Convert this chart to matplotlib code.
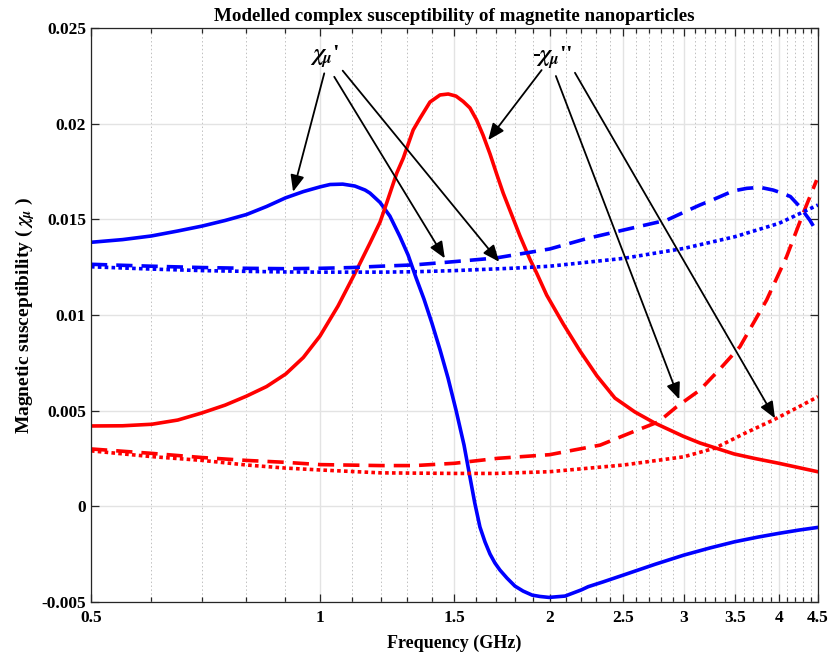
import numpy as np
import matplotlib
matplotlib.use('Agg')
import matplotlib.pyplot as plt
from matplotlib.ticker import FixedLocator, NullFormatter, FixedFormatter

plt.rcParams['font.family'] = ['Liberation Serif', 'DejaVu Serif']
plt.rcParams['font.weight'] = 'bold'
plt.rcParams['mathtext.fontset'] = 'stix'

# ---- data ----
# chi' (solid blue)
f_bs = [0.5, 0.55, 0.6, 0.65, 0.7, 0.75, 0.8, 0.85, 0.9, 0.95, 1.0, 1.03, 1.07, 1.11,
        1.145, 1.162, 1.198, 1.234, 1.272, 1.304, 1.336, 1.368, 1.401, 1.436, 1.471,
        1.507, 1.544, 1.571, 1.595, 1.62, 1.645, 1.67, 1.695, 1.721, 1.758, 1.801,
        1.846, 1.897, 1.942, 1.996, 2.095, 2.2, 2.247, 2.35, 2.5, 2.75, 3.0, 3.25, 3.5,
        3.75, 4.0, 4.25, 4.5]
chi1_real = [0.0138, 0.01394, 0.01413, 0.01439, 0.01465, 0.01494, 0.01525, 0.01567,
             0.01612, 0.01645, 0.0167, 0.01682, 0.01684, 0.01674, 0.01653, 0.01637,
             0.01588, 0.01517, 0.0141, 0.01313, 0.01193, 0.01083, 0.00958, 0.00818,
             0.00671, 0.00503, 0.0032, 0.00158, 0.00017, -0.00108, -0.00186, -0.00249,
             -0.00296, -0.00333, -0.00375, -0.00417, -0.00443, -0.00464, -0.00471,
             -0.00476, -0.00469, -0.00437, -0.0042, -0.00395, -0.00359, -0.00303,
             -0.00255, -0.00217, -0.00185, -0.00161, -0.00141, -0.00124, -0.0011]

# -chi'' (solid red)
f_rs = [0.5, 0.55, 0.601, 0.65, 0.699, 0.75, 0.8, 0.85, 0.901, 0.95, 0.999, 1.055,
        1.116, 1.162, 1.198, 1.222, 1.26, 1.285, 1.324, 1.352, 1.393, 1.436, 1.472,
        1.507, 1.54, 1.572, 1.604, 1.635, 1.67, 1.704, 1.738, 1.792, 1.828, 1.884,
        1.923, 1.982, 2.084, 2.192, 2.307, 2.436, 2.588, 2.749, 2.992, 3.15, 3.296,
        3.491, 3.719, 3.987, 4.496]
chi1_imag = [0.0042, 0.00421, 0.00429, 0.00451, 0.00488, 0.00529, 0.00576, 0.00626,
             0.00692, 0.00778, 0.0089, 0.01047, 0.01235, 0.01376, 0.01486, 0.01585,
             0.01742, 0.0182, 0.01967, 0.02029, 0.02113, 0.0215, 0.02155, 0.02144,
             0.02116, 0.02082, 0.02019, 0.01941, 0.01842, 0.01737, 0.01637, 0.01502,
             0.01414, 0.01292, 0.01219, 0.01104, 0.00953, 0.00812, 0.00682, 0.00566,
             0.00493, 0.00435, 0.00367, 0.00331, 0.00306, 0.00274, 0.0025, 0.00226,
             0.00181]

# chi' (dashed blue)
f_bd = [0.5, 0.6, 0.7, 0.8, 0.9, 1.0, 1.1, 1.2, 1.33, 1.5, 1.7, 2.0, 2.24, 2.5, 2.85, 3.0,
        3.15, 3.3, 3.48, 3.63, 3.78, 3.93, 4.05, 4.14, 4.26, 4.39, 4.5]
chi2_real = [0.01265, 0.01255, 0.01248, 0.01244, 0.01242, 0.01244, 0.01248, 0.01255,
             0.01262, 0.01279, 0.01298, 0.01345, 0.014, 0.01444, 0.01496, 0.01537,
             0.01575, 0.01608, 0.01648, 0.01662, 0.01667, 0.01653, 0.01635, 0.01619,
             0.01566, 0.01496, 0.01425]

# chi' (dotted blue)
f_bo = [0.5, 0.6, 0.7, 0.8, 0.9, 1.0, 1.2, 1.33, 1.5, 1.8, 2.0, 2.5, 3.0, 3.5, 4.0, 4.5]
chi3_real = [0.01252, 0.0124, 0.01232, 0.01228, 0.01225, 0.01224, 0.01224, 0.01226,
             0.01232, 0.01245, 0.01255, 0.01296, 0.01348, 0.01409, 0.01479, 0.01575]

# -chi'' (dashed red)
f_rd = [0.5, 0.6, 0.7, 0.8, 0.9, 1.0, 1.2, 1.33, 1.5, 1.71, 2.0, 2.15, 2.33, 2.575, 2.78,
        2.935, 3.15, 3.35, 3.554, 3.853, 4.092, 4.303, 4.482]
chi2_imag = [0.003, 0.00277, 0.00255, 0.0024, 0.0023, 0.00218, 0.00213, 0.00213, 0.00225,
             0.00251, 0.0027, 0.00294, 0.0032, 0.0039, 0.00442, 0.0052, 0.00608, 0.0072,
             0.00834, 0.01078, 0.01304, 0.01531, 0.01705]

# -chi'' (dotted red)
f_ro = [0.5, 0.6, 0.7, 0.8, 0.9, 1.0, 1.2, 1.5, 1.7, 2.0, 2.5, 3.0, 3.3, 3.6, 3.93, 4.2, 4.5]
chi3_imag = [0.0029, 0.0026, 0.0024, 0.00216, 0.002, 0.0019, 0.00175, 0.00172, 0.00172,
             0.00181, 0.00216, 0.00259, 0.00305, 0.0038, 0.00451, 0.0051, 0.00573]

x_ticks = [0.5, 1, 1.5, 2, 2.5, 3, 3.5, 4, 4.5]
x_labels = ['0.5', '1', '1.5', '2', '2.5', '3', '3.5', '4', '4.5']
y_ticks = [-0.005, 0, 0.005, 0.01, 0.015, 0.02, 0.025]
y_labels = ['-0.005', '0', '0.005', '0.01', '0.015', '0.02', '0.025']

# arrows: (start, tip) in data coords
arr_real = [((1.012, 0.02263), (0.921, 0.01644)),
            ((1.043, 0.02245), (1.457, 0.01296)),
            ((1.070, 0.02277), (1.717, 0.01278))]
arr_imag = [((1.952, 0.0228), (1.661, 0.01914)),
            ((2.038, 0.02249), (2.959, 0.00559)),
            ((2.159, 0.02266), (3.952, 0.0046))]

fig = plt.figure(figsize=(8.3, 6.54), dpi=100)
ax = fig.add_axes([0.1096, 0.0795, 0.8759, 0.8777])

lw = 2.6
ax.plot(f_bs, chi1_real, color='#0000ff', lw=lw)
ax.plot(f_rs, chi1_imag, color='#ff0000', lw=lw)
ax.plot(f_bd, chi2_real, color='#0000ff', lw=lw, dashes=(4.5, 2.5))
ax.plot(f_rd, chi2_imag, color='#ff0000', lw=lw, dashes=(4.5, 2.5))
ax.plot(f_bo, chi3_real, color='#0000ff', lw=lw, dashes=(1.0, 0.9), dash_capstyle='butt')
ax.plot(f_ro, chi3_imag, color='#ff0000', lw=lw, dashes=(1.0, 0.9), dash_capstyle='butt')

ax.set_xscale('log')
ax.set_xlim(0.5, 4.5)
ax.set_ylim(-0.005, 0.025)
ax.xaxis.set_major_locator(FixedLocator(x_ticks))
ax.xaxis.set_major_formatter(FixedFormatter(x_labels))
minors = [round(0.5 + 0.1 * i, 1) for i in range(41)]
minors = [m for m in minors if m not in x_ticks]
ax.xaxis.set_minor_locator(FixedLocator(minors))
ax.xaxis.set_minor_formatter(NullFormatter())
ax.set_yticks(y_ticks)
ax.set_yticklabels(y_labels)

ax.grid(which='major', color='#e3e3e3', lw=1.0)
ax.grid(which='minor', axis='x', color='#c0c0c0', lw=0.7, ls=(0, (1.5, 2.5)))
ax.set_axisbelow(True)
ax.tick_params(which='both', direction='in', top=True, right=True, labelsize=12.5,
               color='#262626', width=0.9)
ax.tick_params(which='major', length=6)
ax.tick_params(which='minor', length=3.5)
for s in ax.spines.values():
    s.set_color('#262626')
    s.set_linewidth(0.9)
ax.tick_params(axis='x', pad=6)

ax.set_title('Modelled complex susceptibility of magnetite nanoparticles',
             fontsize=13.7, fontweight='bold', pad=5)
ax.set_xlabel('Frequency (GHz)', fontsize=13, fontweight='bold', labelpad=6)
ax.set_ylabel(r'Magnetic susceptibility ( $\chi_{\mu}$ )', fontsize=14,
              fontweight='bold', labelpad=3)

ap = dict(arrowstyle='-|>,head_length=1.0,head_width=0.42', color='black', lw=1.3,
          shrinkA=0, shrinkB=0)
for start, tip in arr_real + arr_imag:
    ax.annotate('', xy=tip, xytext=start, arrowprops=ap)
ax.text(1.014, 0.02353, r"$\chi_{\boldsymbol{\mu}}$'", fontsize=17, ha='center', va='center')
ax.text(2.014, 0.02343, r"-$\chi_{\boldsymbol{\mu}}$''", fontsize=17, ha='center', va='center')

fig.savefig('out.png', dpi=100)
